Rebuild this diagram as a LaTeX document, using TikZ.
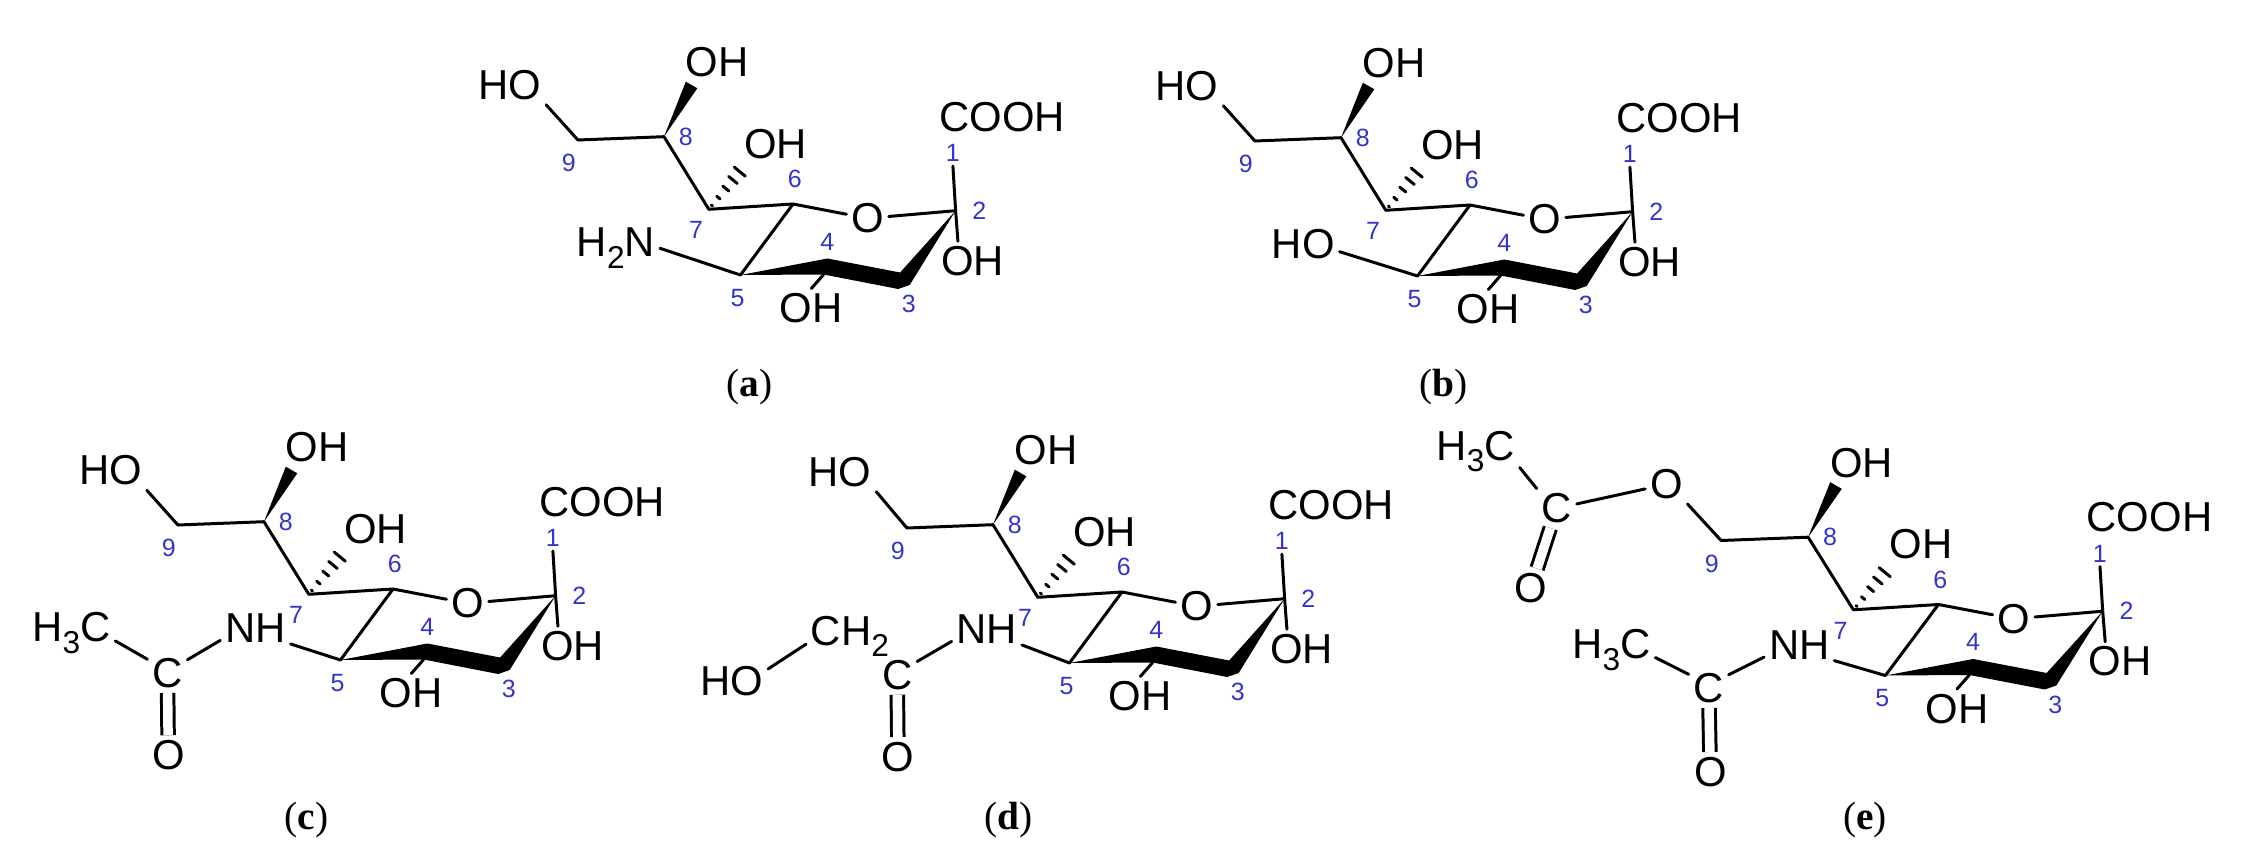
\documentclass[tikz,border=0pt]{standalone}
\usepackage{fontspec}
\setmainfont{Liberation Sans}
\newfontfamily\panelfont{Liberation Serif}
\usetikzlibrary{calc}
\definecolor{sitecolor}{RGB}{52,52,205}
\newcommand{\lowdigit}[1]{\raisebox{-3.4pt}{\fontsize{9}{9}\selectfont #1}}

\begin{document}
\begin{tikzpicture}[x=0.01cm, y=-0.01cm]
    \tikzstyle{bond} = [line width=0.85pt, line cap=round, line join=round]
    \tikzstyle{double bond} = [bond, double, double distance=2.7pt, line cap=butt]
    \tikzstyle{atom label} = [inner sep=1.2pt, font=\fontsize{11.9}{13}\selectfont]
    \tikzstyle{low label} = [atom label, anchor=base]
    \tikzstyle{site label} = [inner sep=1pt, text=sitecolor, font=\fontsize{7.1}{8}\selectfont]
    \tikzstyle{panel label} = [font=\panelfont\fontsize{11.2}{13}\selectfont]
    \useasboundingbox (0, 0) rectangle (2261, 858);
    \foreach \name/\dx/\dy/\sx in {a/0/0/1, b/677/1/1, c/-400/385/1, d/329/388/1, e/1137.4/400.5/1.01} {
        \begin{scope}[shift={(\dx, \dy)}, xscale=\sx, name prefix=\name-]
            \coordinate (c2) at (955.6, 210.7);
            \coordinate (c3) at (900.1, 272.5);
            \coordinate (c3r) at (909.7, 285);
            \coordinate (c3b) at (898.2, 289);
            \coordinate (c4) at (827.4, 258.5);
            \coordinate (c4b) at (823.6, 274.5);
            \coordinate (c5) at (740.5, 275);
            \coordinate (c6) at (793, 204);
            \coordinate (c7) at (708.8, 209.3);
            \coordinate (c8) at (664, 136.7);
            \coordinate (c9) at (577.9, 140);
            \coordinate (w8a) at (685.8, 81.7);
            \coordinate (w8b) at (697.3, 88.3);
            \node[atom label] (cooh) at (1002, 116.7) {COOH};
            \node[atom label] (ringo) at (867.6, 218.3) {O};
            \node[atom label] (oh2) at (972.8, 261) {OH};
            \node[atom label] (oh4) at (811.3, 308.3) {OH};
            \node[atom label] (oh7) at (775.7, 144) {OH};
            \node[atom label] (oh8) at (717, 62.3) {OH};
            \foreach \num/\px/\py in {1/952.9/153.3, 2/979.3/210.7, 3/908.9/304, 4/827.4/241.7, 5/737.5/297.7, 6/794.9/179.3, 7/696.1/230, 8/685.8/136.7, 9/568.7/163.3} {
                \node[site label] (n\num) at (\px, \py) {\num};
            }
            \draw[bond] (c9) -- (c8) -- (c7) -- (c6) -- (ringo) -- (c2);
            \draw[bond] (c6) -- (c5);
            \draw[bond] (c2) -- (n1.south);
            \draw[bond] (c2) -- (oh2.127);
            \draw[bond] (c4b) -- (oh4.north);
            \fill[bond] (c8) -- (w8a) -- (w8b) -- cycle;
            \fill[bond] (c5) -- (c4) -- (c3) -- (c2) -- (c3r) -- (c3b) -- (c4b) -- cycle;
            \foreach \t in {0.1, 0.31, 0.55, 0.78, 1} {
                \draw[bond] ($(c7)+\t*(31, -37.6)+\t*(5.5, 4.5)$) -- ($(c7)+\t*(31, -37.6)-\t*(5.5, 4.5)$);
            }
        \end{scope}
    }
    \foreach \name/\px/\py in {a/749.7/386.7, b/1443.3/386.7, c/306.7/820, d/1008.9/820, e/1865.1/820} {
        \node[panel label] (panel-\name) at (\px, \py) {(\textbf{\name})};
    }
    \node[atom label] (a-ho) at (509.8, 85) {HO};
    \node[atom label] (b-ho) at (1187, 86) {HO};
    \node[atom label] (c-ho) at (110.5, 470.5) {HO};
    \node[atom label] (d-ho) at (840, 472) {HO};
    \foreach \name in {a, b, c, d} {
        \draw[bond] (\name-c9) -- (\name-ho.south east);
    }
    \node[low label] (a-nh) at (616, 256.7) {H\lowdigit{2}N};
    \draw[bond] (a-c5) -- (a-nh.east);
    \node[atom label] (b-ho5) at (1303.3, 244) {HO};
    \draw[bond] (b-c5) -- (b-ho5.-12);
    \node[atom label] (c-nh) at (255.4, 628.3) {NH};
    \node[atom label] (c-co) at (167.4, 673.3) {C};
    \node[atom label] (c-o) at (168.3, 755) {O};
    \node[low label] (c-me) at (71.4, 641.7) {H\lowdigit{3}C};
    \draw[bond] (c-c5) -- (c-nh.-24);
    \draw[bond] (c-nh.199) -- (c-co.34);
    \draw[bond] (c-me.-10) -- (c-co.145);
    \draw[double bond] (c-co) -- (c-o);
    \node[atom label] (d-nh) at (986.8, 629.3) {NH};
    \node[atom label] (d-co) at (897.1, 675) {C};
    \node[atom label] (d-o) at (898, 756.7) {O};
    \node[low label] (d-ch) at (850, 645) {CH\lowdigit{2}};
    \node[atom label] (d-ho2) at (731.9, 680.7) {HO};
    \draw[bond] (d-c5) -- (d-nh.-24);
    \draw[bond] (d-nh.199) -- (d-co.34);
    \draw[bond] (d-ho2.18) -- (d-ch.190);
    \draw[double bond] (d-co) -- (d-o);
    \node[atom label] (e-nh) at (1799.2, 645) {NH};
    \node[atom label] (e-co) at (1708.6, 688.3) {C};
    \node[atom label] (e-o) at (1710.3, 771.7) {O};
    \node[low label] (e-me) at (1611.4, 658.3) {H\lowdigit{3}C};
    \draw[bond] (e-c5) -- (e-nh.-24);
    \draw[bond] (e-nh.199) -- (e-co.34);
    \draw[bond] (e-me.-10) -- (e-co.145);
    \draw[double bond] (e-co) -- (e-o);
    \node[atom label] (e-ester) at (1666.3, 484.3) {O};
    \node[atom label] (e-aco) at (1556.7, 508.3) {C};
    \node[atom label] (e-aco2) at (1530.7, 588.3) {O};
    \node[low label] (e-ame) at (1475.7, 460) {H\lowdigit{3}C};
    \draw[bond] (e-c9) -- (e-ester.south east);
    \draw[bond] (e-ester) -- (e-aco);
    \draw[bond] (e-ame.-20) -- (e-aco.north west);
    \draw[double bond] (e-aco) -- (e-aco2);
\end{tikzpicture}
\end{document}
